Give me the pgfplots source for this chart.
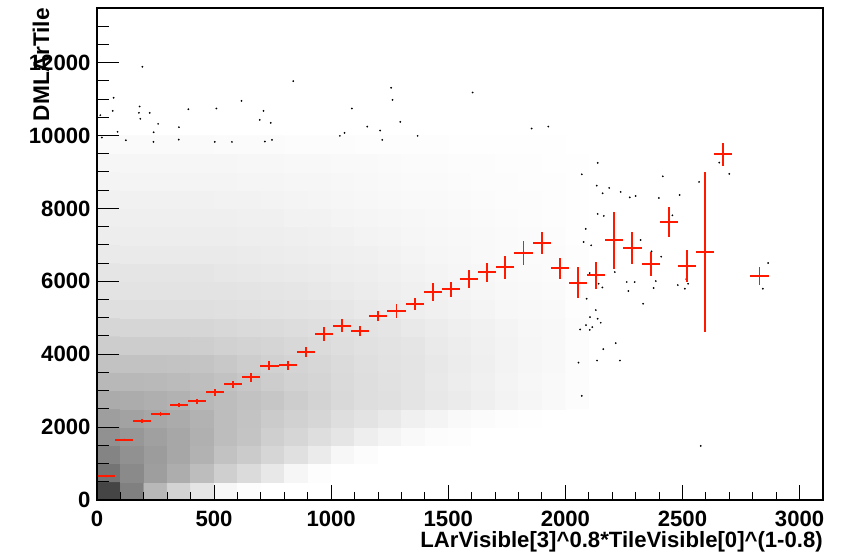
\documentclass[border=0pt]{standalone}
\usepackage{pgfplots}
\usepackage{pgfplotstable}
\pgfplotsset{compat=1.18}
\usepackage{fontspec}
\setmainfont{Liberation Sans}
\definecolor{rootred}{RGB}{255,25,0}
\newcommand{\rf}{\fontsize{16.6}{19}\selectfont\bfseries}
\newcommand{\rfl}{\fontsize{17}{19}\selectfont\bfseries}

% relative density of the scatter cloud, cells 100 x 500 (cell centres)
\pgfplotstableread[row sep=\\]{
x y c\\
50 250 65\\ 150 250 40\\ 250 250 15\\ 350 250 6\\ 450 250 2\\ 550 250 0.5\\ 650 250 0.1\\ 750 250 0\\ 850 250 0\\ 950 250 0\\ 1050 250 0\\ 1150 250 0\\ 1250 250 0\\ 1350 250 0\\ 1450 250 0\\ 1550 250 0\\ 1650 250 0\\ 1750 250 0\\ 1850 250 0\\ 1950 250 0\\ 2050 250 0\\
50 750 45\\ 150 750 35\\ 250 750 26\\ 350 750 19\\ 450 750 13\\ 550 750 7\\ 650 750 4\\ 750 750 1.8\\ 850 750 0.6\\ 950 750 0.1\\ 1050 750 0\\ 1150 750 0\\ 1250 750 0\\ 1350 750 0\\ 1450 750 0\\ 1550 750 0\\ 1650 750 0\\ 1750 750 0\\ 1850 750 0\\ 1950 750 0\\ 2050 750 0\\
50 1250 38\\ 150 1250 32\\ 250 1250 27\\ 350 1250 22\\ 450 1250 17\\ 550 1250 11\\ 650 1250 8\\ 750 1250 5\\ 850 1250 3\\ 950 1250 1.5\\ 1050 1250 0.5\\ 1150 1250 0.2\\ 1250 1250 0\\ 1350 1250 0\\ 1450 1250 0\\ 1550 1250 0\\ 1650 1250 0\\ 1750 1250 0\\ 1850 1250 0\\ 1950 1250 0\\ 2050 1250 0\\
50 1750 32\\ 150 1750 29\\ 250 1750 25\\ 350 1750 22\\ 450 1750 18\\ 550 1750 13\\ 650 1750 10\\ 750 1750 7\\ 850 1750 5\\ 950 1750 3.5\\ 1050 1750 2\\ 1150 1750 1.2\\ 1250 1750 0.7\\ 1350 1750 0.4\\ 1450 1750 0.2\\ 1550 1750 0.1\\ 1650 1750 0\\ 1750 1750 0\\ 1850 1750 0\\ 1950 1750 0\\ 2050 1750 0\\
50 2250 26\\ 150 2250 24\\ 250 2250 22\\ 350 2250 20\\ 450 2250 17\\ 550 2250 13\\ 650 2250 10.5\\ 750 2250 8\\ 850 2250 6.5\\ 950 2250 5\\ 1050 2250 3.5\\ 1150 2250 2.5\\ 1250 2250 1.7\\ 1350 2250 1\\ 1450 2250 0.7\\ 1550 2250 0.4\\ 1650 2250 0.25\\ 1750 2250 0.1\\ 1850 2250 0.05\\ 1950 2250 0\\ 2050 2250 0\\
50 2750 20\\ 150 2750 19.5\\ 250 2750 18.5\\ 350 2750 17\\ 450 2750 15\\ 550 2750 13\\ 650 2750 11\\ 750 2750 9.5\\ 850 2750 7.5\\ 950 2750 6\\ 1050 2750 4.5\\ 1150 2750 3.5\\ 1250 2750 3\\ 1350 2750 2.2\\ 1450 2750 1.8\\ 1550 2750 1.5\\ 1650 2750 1.1\\ 1750 2750 0.8\\ 1850 2750 0.6\\ 1950 2750 0.4\\ 2050 2750 0.2\\
50 3250 15\\ 150 3250 15\\ 250 3250 14.5\\ 350 3250 13.5\\ 450 3250 12.5\\ 550 3250 11\\ 650 3250 9.2\\ 750 3250 7.5\\ 850 3250 6.3\\ 950 3250 5.2\\ 1050 3250 4.3\\ 1150 3250 3.5\\ 1250 3250 2.8\\ 1350 3250 2.2\\ 1450 3250 1.7\\ 1550 3250 1.3\\ 1650 3250 1\\ 1750 3250 0.7\\ 1850 3250 0.5\\ 1950 3250 0.4\\ 2050 3250 0.2\\
50 3750 11\\ 150 3750 11\\ 250 3750 11\\ 350 3750 10.5\\ 450 3750 10\\ 550 3750 9\\ 650 3750 7.7\\ 750 3750 6.5\\ 850 3750 5.6\\ 950 3750 4.8\\ 1050 3750 4\\ 1150 3750 3.3\\ 1250 3750 2.7\\ 1350 3750 2.2\\ 1450 3750 1.8\\ 1550 3750 1.4\\ 1650 3750 1.1\\ 1750 3750 0.8\\ 1850 3750 0.6\\ 1950 3750 0.45\\ 2050 3750 0.2\\
50 4250 7.5\\ 150 4250 7.5\\ 250 4250 7.5\\ 350 4250 7.5\\ 450 4250 7.2\\ 550 4250 6.5\\ 650 4250 5.8\\ 750 4250 5.2\\ 850 4250 4.6\\ 950 4250 4\\ 1050 4250 3.4\\ 1150 4250 2.9\\ 1250 4250 2.4\\ 1350 4250 2\\ 1450 4250 1.6\\ 1550 4250 1.3\\ 1650 4250 1\\ 1750 4250 0.8\\ 1850 4250 0.6\\ 1950 4250 0.45\\ 2050 4250 0.2\\
50 4750 5\\ 150 4750 5\\ 250 4750 5\\ 350 4750 5\\ 450 4750 5\\ 550 4750 4.7\\ 650 4750 4.3\\ 750 4750 4\\ 850 4750 3.6\\ 950 4750 3.2\\ 1050 4750 2.8\\ 1150 4750 2.4\\ 1250 4750 2\\ 1350 4750 1.7\\ 1450 4750 1.4\\ 1550 4750 1.1\\ 1650 4750 0.9\\ 1750 4750 0.7\\ 1850 4750 0.55\\ 1950 4750 0.45\\ 2050 4750 0.2\\
50 5250 3.3\\ 150 5250 3.3\\ 250 5250 3.3\\ 350 5250 3.3\\ 450 5250 3.3\\ 550 5250 3.1\\ 650 5250 2.9\\ 750 5250 2.7\\ 850 5250 2.45\\ 950 5250 2.2\\ 1050 5250 1.95\\ 1150 5250 1.7\\ 1250 5250 1.45\\ 1350 5250 1.2\\ 1450 5250 1\\ 1550 5250 0.85\\ 1650 5250 0.7\\ 1750 5250 0.55\\ 1850 5250 0.45\\ 1950 5250 0.37\\ 2050 5250 0.15\\
50 5750 2.5\\ 150 5750 2.5\\ 250 5750 2.5\\ 350 5750 2.5\\ 450 5750 2.5\\ 550 5750 2.4\\ 650 5750 2.25\\ 750 5750 2.1\\ 850 5750 1.95\\ 950 5750 1.8\\ 1050 5750 1.6\\ 1150 5750 1.4\\ 1250 5750 1.2\\ 1350 5750 1\\ 1450 5750 0.85\\ 1550 5750 0.7\\ 1650 5750 0.58\\ 1750 5750 0.48\\ 1850 5750 0.38\\ 1950 5750 0.3\\ 2050 5750 0.13\\
50 6250 2\\ 150 6250 2\\ 250 6250 2\\ 350 6250 2\\ 450 6250 2\\ 550 6250 1.9\\ 650 6250 1.8\\ 750 6250 1.7\\ 850 6250 1.58\\ 950 6250 1.45\\ 1050 6250 1.3\\ 1150 6250 1.15\\ 1250 6250 1\\ 1350 6250 0.85\\ 1450 6250 0.72\\ 1550 6250 0.6\\ 1650 6250 0.5\\ 1750 6250 0.42\\ 1850 6250 0.33\\ 1950 6250 0.27\\ 2050 6250 0.12\\
50 6750 1.6\\ 150 6750 1.6\\ 250 6750 1.6\\ 350 6750 1.6\\ 450 6750 1.6\\ 550 6750 1.55\\ 650 6750 1.48\\ 750 6750 1.4\\ 850 6750 1.3\\ 950 6750 1.2\\ 1050 6750 1.08\\ 1150 6750 0.95\\ 1250 6750 0.82\\ 1350 6750 0.7\\ 1450 6750 0.6\\ 1550 6750 0.5\\ 1650 6750 0.42\\ 1750 6750 0.35\\ 1850 6750 0.28\\ 1950 6750 0.23\\ 2050 6750 0.1\\
50 7250 1.3\\ 150 7250 1.3\\ 250 7250 1.3\\ 350 7250 1.3\\ 450 7250 1.3\\ 550 7250 1.25\\ 650 7250 1.2\\ 750 7250 1.15\\ 850 7250 1.08\\ 950 7250 1\\ 1050 7250 0.9\\ 1150 7250 0.8\\ 1250 7250 0.7\\ 1350 7250 0.6\\ 1450 7250 0.51\\ 1550 7250 0.43\\ 1650 7250 0.36\\ 1750 7250 0.3\\ 1850 7250 0.24\\ 1950 7250 0.2\\ 2050 7250 0.08\\
50 7750 1.1\\ 150 7750 1.1\\ 250 7750 1.1\\ 350 7750 1.1\\ 450 7750 1.1\\ 550 7750 1.05\\ 650 7750 1\\ 750 7750 0.95\\ 850 7750 0.88\\ 950 7750 0.82\\ 1050 7750 0.75\\ 1150 7750 0.67\\ 1250 7750 0.58\\ 1350 7750 0.5\\ 1450 7750 0.43\\ 1550 7750 0.36\\ 1650 7750 0.3\\ 1750 7750 0.25\\ 1850 7750 0.2\\ 1950 7750 0.16\\ 2050 7750 0.07\\
50 8250 0.9\\ 150 8250 0.9\\ 250 8250 0.9\\ 350 8250 0.9\\ 450 8250 0.9\\ 550 8250 0.86\\ 650 8250 0.82\\ 750 8250 0.78\\ 850 8250 0.73\\ 950 8250 0.68\\ 1050 8250 0.62\\ 1150 8250 0.55\\ 1250 8250 0.48\\ 1350 8250 0.42\\ 1450 8250 0.36\\ 1550 8250 0.3\\ 1650 8250 0.25\\ 1750 8250 0.21\\ 1850 8250 0.17\\ 1950 8250 0.14\\ 2050 8250 0.06\\
50 8750 0.75\\ 150 8750 0.75\\ 250 8750 0.75\\ 350 8750 0.75\\ 450 8750 0.75\\ 550 8750 0.72\\ 650 8750 0.68\\ 750 8750 0.65\\ 850 8750 0.6\\ 950 8750 0.56\\ 1050 8750 0.51\\ 1150 8750 0.46\\ 1250 8750 0.4\\ 1350 8750 0.35\\ 1450 8750 0.3\\ 1550 8750 0.25\\ 1650 8750 0.21\\ 1750 8750 0.17\\ 1850 8750 0.14\\ 1950 8750 0.12\\ 2050 8750 0.05\\
50 9250 0.6\\ 150 9250 0.6\\ 250 9250 0.6\\ 350 9250 0.6\\ 450 9250 0.6\\ 550 9250 0.58\\ 650 9250 0.55\\ 750 9250 0.52\\ 850 9250 0.48\\ 950 9250 0.45\\ 1050 9250 0.41\\ 1150 9250 0.37\\ 1250 9250 0.32\\ 1350 9250 0.28\\ 1450 9250 0.24\\ 1550 9250 0.2\\ 1650 9250 0.17\\ 1750 9250 0.14\\ 1850 9250 0.11\\ 1950 9250 0.09\\ 2050 9250 0.04\\
50 9750 0.3\\ 150 9750 0.3\\ 250 9750 0.3\\ 350 9750 0.3\\ 450 9750 0.3\\ 550 9750 0.28\\ 650 9750 0.26\\ 750 9750 0.24\\ 850 9750 0.22\\ 950 9750 0.2\\ 1050 9750 0.18\\ 1150 9750 0.16\\ 1250 9750 0.14\\ 1350 9750 0.12\\ 1450 9750 0.1\\ 1550 9750 0.08\\ 1650 9750 0.07\\ 1750 9750 0.06\\ 1850 9750 0.05\\ 1950 9750 0.04\\ 2050 9750 0.02\\
}\dens

% profile: bin centre, mean, error
\pgfplotstableread[row sep=\\]{
x y ey\\
38.75 655 20\\
116.25 1648 30\\
193.75 2161 60\\
271.25 2363 45\\
348.75 2603 55\\
426.25 2705 60\\
503.75 2953 96\\
581.25 3178 92\\
658.75 3366 115\\
736.25 3686 128\\
813.75 3695 119\\
891.25 4057 133\\
968.75 4560 192\\
1046.25 4780 183\\
1123.75 4634 147\\
1201.25 5046 137\\
1278.75 5188 183\\
1356.25 5380 170\\
1433.75 5710 238\\
1511.25 5778 206\\
1588.75 6062 242\\
1666.25 6245 270\\
1743.75 6383 320\\
1821.25 6790 330\\
1898.75 7046 302\\
1976.25 6360 284\\
2053.75 5962 425\\
2131.25 6163 380\\
2208.75 7122 790\\
2286.25 6914 450\\
2363.75 6472 330\\
2441.25 7619 412\\
2518.75 6417 440\\
2596.25 6800 2200\\
2673.75 9482 320\\
2828.75 6150 250\\
}\prof

\begin{document}
\begin{tikzpicture}
\begin{axis}[name=ax, scale only axis, width=544.5pt, height=369pt,
  xmin=0, xmax=3100, ymin=0, ymax=13500,
  axis on top,
  xtick=\empty,
  ytick={0,2000,...,12000},
  minor ytick={0,500,...,13000},
  tick align=inside, ytick pos=left,
  major tick length=16.5pt, minor tick length=8.8pt,
  tick style={black, line width=0.75pt},
  axis line style={line width=0.8pt},
  scaled ticks=false,
  /pgf/number format/assume math mode=true,
  /pgf/number format/1000 sep={},
  yticklabel style={font=\rf, anchor=east, inner sep=0pt, xshift=-4.7pt},
  ylabel={DMLArTile},
  ylabel style={font=\rfl, at={(axis description cs:-0.0661,1)}, anchor=base east, inner sep=0pt},
  colormap={dens}{color(0pt)=(white) color(1pt)=(black!6) color(2pt)=(black!10) color(5pt)=(black!16) color(10pt)=(black!23) color(20pt)=(black!33) color(40pt)=(black!50) color(75pt)=(black!82) color(100pt)=(black)},
  point meta min=0, point meta max=100,
]
\addplot[matrix plot*, mesh/cols=21, point meta=explicit] table[x=x, y=y, meta=c] {\dens};
\addplot[only marks, mark=*, mark size=0.45pt, mark options={draw=none, fill=black!65}] coordinates {
(194,11887) (838,11492) (1256,11310) (1604,11181) (71,11035) (1262,10980) (617,10953) (182,10797) (67,10678) (390,10723) (510,10742) (711,10678) (1088,10742) (179,10623) (225,10623) (14,10558) (185,10459) (695,10430) (742,10348) (1295,10375) (261,10320) (350,10229) (1154,10247) (1856,10192) (1927,10247) (1209,10137) (88,10101) (242,10091) (1057,10073) (1037,9991) (1369,9991) (21,9945) (123,9871) (349,9890) (241,9826) (503,9826) (576,9826) (717,9835) (747,9881) (1218,9881)
(2138,9249) (2070,8937) (2134,8626) (2187,8563) (2159,8415) (2236,8453) (2275,8305) (2300,8343) (2416,8882) (2399,8288) (2488,8370) (2571,8728) (2700,8948) (2657,9258) (2138,7849) (2164,7794) (2457,7811) (2087,7437) (2078,7080) (2110,6987) (2321,7134) (2409,6676) (2368,6822) (2211,6255) (2104,6228) (2142,5934) (2158,5832) (2262,5981) (2296,5981) (2269,5733) (2386,6008) (2377,5816) (2480,5898) (2510,5797) (2516,6063) (2524,5934) (2866,6503) (2843,5797) (2332,5385) (2091,5522) (2130,5211) (2138,4973) (2105,5019) (2088,4799) (2115,4744) (2104,4670) (2151,4863) (2063,4679) (2215,4305) (2162,4140) (2135,3827) (2233,3827) (2056,3772) (2070,2857) (2578,1484)
};
\end{axis}
\begin{axis}[at={(ax.south west)}, anchor=south west, scale only axis, width=544.5pt, height=369pt,
  xmin=0, xmax=3100, ymin=0, ymax=13500,
  axis on top,
  ytick=\empty,
  xtick={0,500,...,3000},
  minor xtick={0,100,...,3000},
  tick align=inside, xtick pos=left,
  major tick length=11.25pt, minor tick length=5.8pt,
  tick style={black, line width=0.75pt},
  axis line style={line width=0.8pt},
  scaled ticks=false,
  /pgf/number format/assume math mode=true,
  /pgf/number format/1000 sep={},
  xticklabel style={font=\rf, anchor=north, inner sep=0pt, yshift=-8.3pt},
  xlabel={LArVisible[3]\textasciicircum0.8*TileVisible[0]\textasciicircum(1-0.8)},
  xlabel style={font=\rf, at={(axis description cs:1,-0.096)}, anchor=base east, inner sep=0pt},
]
\addplot[color=rootred, only marks, mark=*, mark size=0.7pt, mark options={draw=none, fill=rootred},
  error bars/.cd, x dir=both, x fixed=38.75, y dir=both, y explicit,
  error mark=none, error bar style={solid, color=rootred, line width=1.45pt}]
  table[x=x, y=y, y error=ey] {\prof};
\end{axis}
\pgfresetboundingbox
\path[use as bounding box] ([shift={(-72.75pt,-42pt)}]ax.south west) rectangle ([shift={(22.5pt,6pt)}]ax.north east);
\end{tikzpicture}
\end{document}
